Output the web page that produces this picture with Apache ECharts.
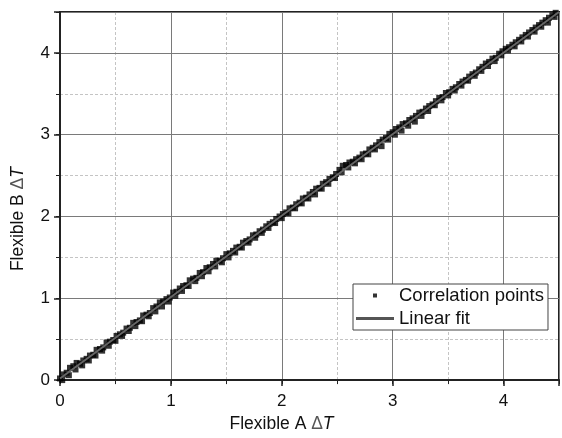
<!DOCTYPE html>
<html>
<head>
<meta charset="utf-8">
<script src="https://cdn.jsdelivr.net/npm/echarts@6/dist/echarts.min.js"></script>
<style>
  html, body { margin: 0; padding: 0; background: #fff; }
  #chart { width: 562px; height: 438px; }
</style>
</head>
<body>
<div id="chart"></div>
<script>
// correlation points [Flexible A dT, Flexible B dT]
// upper edge of the band
const upperX = [
  0.00, 0.03, 0.06, 0.09, 0.12, 0.15, 0.18, 0.21, 0.24, 0.27, 0.30, 0.33, 0.36, 0.39, 0.42, 0.45,
  0.48, 0.51, 0.54, 0.57, 0.60, 0.63, 0.66, 0.69, 0.72, 0.75, 0.78, 0.81, 0.84, 0.87, 0.90, 0.93,
  0.96, 0.99, 1.02, 1.05, 1.08, 1.11, 1.14, 1.17, 1.20, 1.23, 1.26, 1.29, 1.32, 1.35, 1.38, 1.41,
  1.44, 1.47, 1.50, 1.53, 1.56, 1.59, 1.62, 1.65, 1.68, 1.71, 1.74, 1.77, 1.80, 1.83, 1.86, 1.89,
  1.92, 1.95, 1.98, 2.01, 2.04, 2.07, 2.10, 2.13, 2.16, 2.19, 2.22, 2.25, 2.28, 2.31, 2.34, 2.37,
  2.40, 2.43, 2.46, 2.49, 2.52, 2.55, 2.58, 2.61, 2.64, 2.67, 2.70, 2.73, 2.76, 2.79, 2.82, 2.85,
  2.88, 2.91, 2.94, 2.97, 3.00, 3.03, 3.06, 3.09, 3.12, 3.15, 3.18, 3.21, 3.24, 3.27, 3.30, 3.33,
  3.36, 3.39, 3.42, 3.45, 3.48, 3.51, 3.54, 3.57, 3.60, 3.63, 3.66, 3.69, 3.72, 3.75, 3.78, 3.81,
  3.84, 3.87, 3.90, 3.93, 3.96, 3.99, 4.02, 4.05, 4.08, 4.11, 4.14, 4.17, 4.20, 4.23, 4.26, 4.29,
  4.32, 4.35, 4.38, 4.41, 4.44, 4.47
];
const upperY = [
  0.02, 0.07, 0.09, 0.15, 0.17, 0.21, 0.20, 0.24, 0.26, 0.30, 0.31, 0.37, 0.38, 0.40, 0.46, 0.47,
  0.49, 0.54, 0.56, 0.58, 0.63, 0.64, 0.70, 0.71, 0.73, 0.79, 0.80, 0.82, 0.88, 0.90, 0.95, 0.96,
  0.99, 1.01, 1.07, 1.08, 1.12, 1.15, 1.16, 1.22, 1.24, 1.25, 1.31, 1.32, 1.37, 1.38, 1.42, 1.46,
  1.46, 1.49, 1.54, 1.55, 1.58, 1.62, 1.63, 1.68, 1.70, 1.72, 1.77, 1.78, 1.82, 1.84, 1.88, 1.91,
  1.93, 1.97, 2.00, 2.03, 2.05, 2.10, 2.11, 2.15, 2.17, 2.22, 2.23, 2.27, 2.30, 2.34, 2.35, 2.40,
  2.42, 2.46, 2.48, 2.52, 2.57, 2.62, 2.63, 2.66, 2.67, 2.70, 2.72, 2.76, 2.77, 2.82, 2.84, 2.87,
  2.91, 2.94, 2.96, 3.01, 3.03, 3.07, 3.09, 3.13, 3.14, 3.18, 3.20, 3.23, 3.27, 3.28, 3.32, 3.35,
  3.37, 3.41, 3.45, 3.46, 3.51, 3.52, 3.56, 3.58, 3.62, 3.65, 3.67, 3.71, 3.74, 3.76, 3.80, 3.83,
  3.87, 3.89, 3.93, 3.94, 3.99, 4.02, 4.05, 4.07, 4.10, 4.13, 4.16, 4.19, 4.22, 4.25, 4.28, 4.31,
  4.34, 4.37, 4.40, 4.43, 4.46, 4.49
];
// lower edge of the band
const lowerX = [
  0.02, 0.08, 0.14, 0.20, 0.26, 0.32, 0.38, 0.44, 0.50, 0.56, 0.62, 0.68, 0.74, 0.80, 0.86, 0.92,
  0.98, 1.04, 1.10, 1.16, 1.22, 1.28, 1.34, 1.40, 1.46, 1.52, 1.58, 1.64, 1.70, 1.76, 1.82, 1.88,
  1.94, 2.00, 2.06, 2.12, 2.18, 2.24, 2.30, 2.36, 2.42, 2.48, 2.54, 2.60, 2.66, 2.72, 2.78, 2.84,
  2.90, 2.96, 3.02, 3.08, 3.14, 3.20, 3.26, 3.32, 3.38, 3.44, 3.50, 3.56, 3.62, 3.68, 3.74, 3.80,
  3.86, 3.92, 3.98, 4.04, 4.10, 4.16, 4.22, 4.28, 4.34, 4.40, 4.46
];
const lowerY = [
  0.00, 0.06, 0.13, 0.18, 0.24, 0.30, 0.36, 0.42, 0.48, 0.54, 0.60, 0.66, 0.72, 0.78, 0.84, 0.90,
  0.96, 1.03, 1.09, 1.15, 1.21, 1.27, 1.33, 1.39, 1.44, 1.50, 1.56, 1.62, 1.68, 1.74, 1.80, 1.86,
  1.92, 1.98, 2.04, 2.10, 2.16, 2.22, 2.27, 2.34, 2.40, 2.47, 2.54, 2.60, 2.65, 2.70, 2.76, 2.82,
  2.86, 2.94, 3.00, 3.05, 3.11, 3.16, 3.23, 3.29, 3.36, 3.42, 3.48, 3.54, 3.60, 3.66, 3.72, 3.78,
  3.84, 3.90, 3.97, 4.03, 4.08, 4.14, 4.20, 4.26, 4.32, 4.37, 4.44
];

// linear fit end points
const fitX = [0, 4.5];
const fitY = [0.02, 4.5];

const tickLabels = ['0', '1', '2', '3', '4'];

const points = upperX.map((x, i) => [x, upperY[i]])
  .concat(lowerX.map((x, i) => [x, lowerY[i]]));
const fit = fitX.map((x, i) => [x, fitY[i]]);

const font = 'Liberation Sans, Arial, sans-serif';
const axisName = (letter) => 'Flexible ' + letter + ' {d|\u0394}{t|T}';
const nameRich = {
  d: { fontSize: 17.5, color: '#555', fontFamily: font },
  t: { fontSize: 17.5, fontStyle: 'italic', color: '#111', fontFamily: font }
};

// minor axis: dashed grid every 0.5, short ticks
const minorAxis = {
  type: 'value', min: 0, max: 4.5, interval: 0.5, z: 0,
  axisLine: { show: false },
  axisTick: { show: true, length: 4, lineStyle: { color: '#222', width: 1 } },
  axisLabel: { show: false },
  splitLine: { show: true, lineStyle: { color: '#c4c4c4', width: 1, type: [3, 2] } }
};

// major axis: solid grid every 1, labels
const majorAxis = (letter, isX) => ({
  type: 'value', min: 0, max: 4.5, interval: 1, z: 1,
  name: axisName(letter),
  nameLocation: 'middle',
  nameGap: isX ? 32 : 33,
  nameTextStyle: {
    fontSize: 17.5, color: '#111', fontFamily: font, rich: nameRich,
    // the titles sit off-centre in the reference
    padding: isX ? [0, 56, 0, 0] : [0, 46, 0, 0]
  },
  axisLine: { show: true, lineStyle: { color: '#222', width: 2 } },
  axisTick: { show: true, length: 6, lineStyle: { color: '#222', width: 1.5 } },
  axisLabel: {
    fontSize: 17, color: '#111', fontFamily: font, margin: isX ? 13 : 10,
    formatter: (v) => (tickLabels.indexOf(String(v)) >= 0 ? String(v) : '')
  },
  splitLine: { show: true, lineStyle: { color: '#7a7a7a', width: 1 } }
});

const chart = echarts.init(document.getElementById('chart'));
chart.setOption({
  animation: false,
  backgroundColor: '#fff',
  grid: {
    left: 60, top: 12, width: 504, height: 376,
    show: true, borderColor: '#222', borderWidth: 2, backgroundColor: 'transparent'
  },
  xAxis: [
    Object.assign({ position: 'bottom' }, minorAxis),
    Object.assign({ position: 'bottom' }, majorAxis('A', true))
  ],
  yAxis: [
    Object.assign({ position: 'left' }, minorAxis),
    Object.assign({ position: 'left' }, majorAxis('B', false))
  ],
  legend: {
    orient: 'vertical',
    left: 353, top: 284,
    padding: [2, 4, 2, 3],
    itemGap: 4,
    itemWidth: 38, itemHeight: 8,
    backgroundColor: '#fff',
    borderColor: '#444', borderWidth: 1, borderRadius: 0,
    textStyle: { fontSize: 18.5, color: '#111', fontFamily: font },
    data: [
      { name: 'Correlation points', icon: 'path://M0,0M38,8M17,2h4v4h-4z' },
      { name: 'Linear fit', icon: 'path://M0,0M38,8M0,2.5h38v3h-38z' }
    ]
  },
  series: [
    {
      name: 'Correlation points',
      type: 'scatter',
      xAxisIndex: 1, yAxisIndex: 1,
      symbol: 'rect', symbolSize: 6,
      itemStyle: { color: '#000' },
      data: points,
      z: 2
    },
    {
      name: 'Linear fit',
      type: 'line',
      xAxisIndex: 1, yAxisIndex: 1,
      showSymbol: false, symbol: 'none',
      lineStyle: { color: '#666', width: 2 },
      itemStyle: { color: '#555' },
      data: fit,
      z: 3
    }
  ]
});
</script>
</body>
</html>
